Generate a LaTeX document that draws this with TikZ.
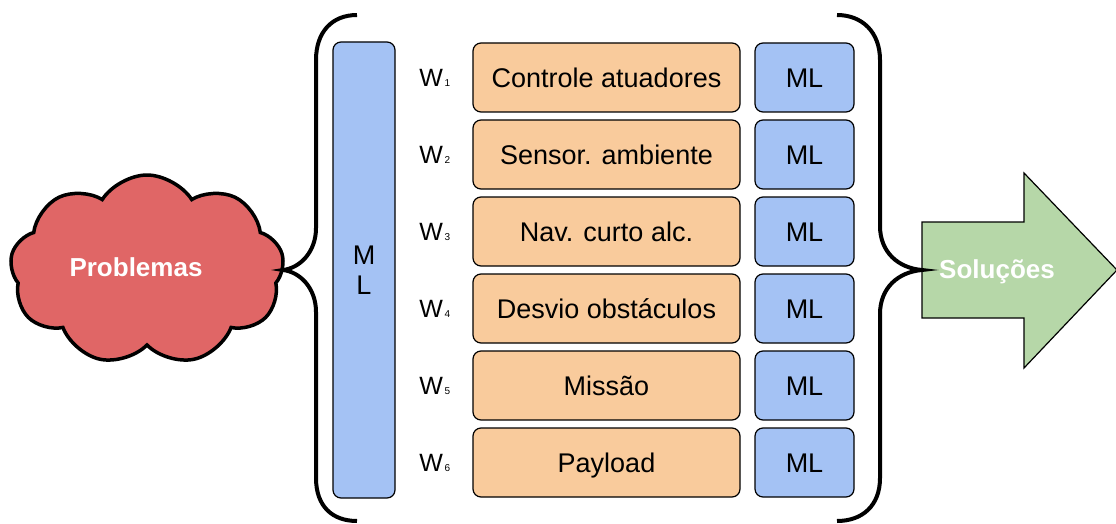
\documentclass[tikz,border=0pt]{standalone}
\usepackage{fontspec}
\setmainfont{Liberation Sans}
\usetikzlibrary{shapes.symbols,positioning}
\definecolor{mlblue}{HTML}{A4C2F4}
\definecolor{taskorange}{HTML}{F9CB9C}
\definecolor{probred}{HTML}{E06666}
\definecolor{solgreen}{HTML}{B6D7A8}
\newcommand{\wsub}[1]{W{\fontsize{10}{10}\selectfont\,#1}}

\begin{document}
\begin{tikzpicture}[x=1pt,y=-1pt,node distance=6.8pt and 13.8pt,
  task/.style={draw,fill=taskorange,rounded corners=8pt,minimum width=267pt,minimum height=69pt,inner sep=0pt,line width=1.2pt,text height=20pt,text depth=0pt,font=\fontsize{27}{30}\selectfont},
  mlbox/.style={draw,fill=mlblue,rounded corners=8pt,minimum width=99pt,minimum height=69pt,inner sep=0pt,line width=1.2pt,align=center,text height=20pt,text depth=0pt,font=\fontsize{27}{30}\selectfont},
  wlabel/.style={inner sep=0pt,font=\fontsize{25}{30}\selectfont},
  title/.style={text=white,font=\bfseries\fontsize{26}{30}\selectfont},
  brace/.style={line width=4pt}
]
  \useasboundingbox (0,0) rectangle (1116,524);

  % problems and solutions
  \node[cloud,draw,fill=probred,line width=3.5pt,cloud puffs=9,cloud puff arc=115,aspect=1.45,minimum width=274pt,minimum height=190pt,inner sep=0pt] (probcloud) at (147,270) {};
  \node[title] (prob) at (136,267) {Problemas};
  \draw[fill=solgreen,line width=1.2pt] (922,222) -- (1024,222) -- (1024,173) -- (1117,270) -- (1024,368) -- (1024,318) -- (922,318) -- cycle;
  \node[title] (sol) at (997,272) {Soluções};

  % braces
  \draw[brace] (357,15) .. controls (332,15) and (316,32) .. (316,60) -- (316,228) .. controls (316,252) and (300,268) .. (283,270) .. controls (300,272) and (316,288) .. (316,312) -- (316,478) .. controls (316,506) and (332,521) .. (357,521);
  \draw[brace] (837,15) .. controls (862,15) and (880,32) .. (880,60) -- (880,226) .. controls (880,252) and (898,268) .. (922,270) .. controls (898,272) and (880,288) .. (880,314) -- (880,478) .. controls (880,506) and (862,521) .. (837,521);

  % ML column
  \node[mlbox,minimum width=62pt,minimum height=456pt,text height=,text depth=] (mlall) at (364,270) {M\\L};

  % tasks
  \node[task] (t1) at (606.5,77.5) {Controle atuadores};
  \node[task,below=of t1] (t2) {Sensor. ambiente};
  \node[task,below=of t2] (t3) {Nav. curto alc.};
  \node[task,below=of t3] (t4) {Desvio obstáculos};
  \node[task,below=of t4] (t5) {Missão};
  \node[task,below=of t5] (t6) {Payload};

  \node[mlbox,right=of t1] (ml1) {ML};
  \node[mlbox,right=of t2] (ml2) {ML};
  \node[mlbox,right=of t3] (ml3) {ML};
  \node[mlbox,right=of t4] (ml4) {ML};
  \node[mlbox,right=of t5] (ml5) {ML};
  \node[mlbox,right=of t6] (ml6) {ML};

  \node[wlabel,left=22pt of t1] (w1) {\wsub{1}};
  \node[wlabel,left=22pt of t2] (w2) {\wsub{2}};
  \node[wlabel,left=22pt of t3] (w3) {\wsub{3}};
  \node[wlabel,left=22pt of t4] (w4) {\wsub{4}};
  \node[wlabel,left=22pt of t5] (w5) {\wsub{5}};
  \node[wlabel,left=22pt of t6] (w6) {\wsub{6}};
\end{tikzpicture}
\end{document}
